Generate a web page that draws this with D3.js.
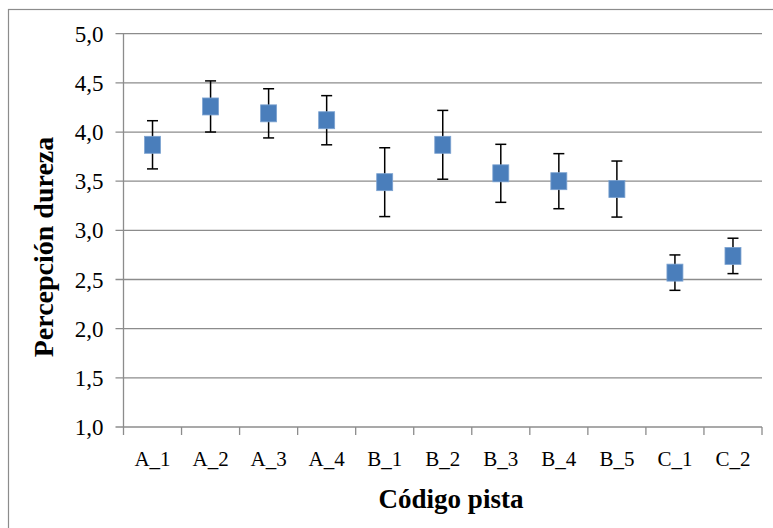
<!DOCTYPE html>
<html>
<head>
<meta charset="utf-8">
<script src="https://cdn.jsdelivr.net/npm/d3@7"></script>
<style>
  body { margin: 0; background: #fff; }
  text { font-family: "Liberation Serif", serif; fill: #000; }
</style>
</head>
<body>
<div id="chart"></div>
<script>
// data
var categories = ["A_1", "A_2", "A_3", "A_4", "B_1", "B_2", "B_3", "B_4", "B_5", "C_1", "C_2"];
var means  = [3.87, 4.26, 4.19, 4.12, 3.49, 3.87, 3.58, 3.50, 3.42, 2.57, 2.74];
var errors = [0.245, 0.26, 0.25, 0.25, 0.35, 0.35, 0.295, 0.28, 0.285, 0.18, 0.18];
var yTicks = [1.0, 1.5, 2.0, 2.5, 3.0, 3.5, 4.0, 4.5, 5.0];

const width = 773, height = 528;
const plotLeft = 123.5, plotRight = 762, plotTop = 33.7, plotBottom = 427;

const svg = d3.select("#chart")
  .append("svg")
  .attr("width", width)
  .attr("height", height);

// outer chart border (only left and top visible in the picture)
svg.append("rect")
  .attr("x", 8.5).attr("y", 9.5)
  .attr("width", 800).attr("height", 600)
  .attr("fill", "none")
  .attr("stroke", "#8c8c8c")
  .attr("stroke-width", 1.2);

var x = d3.scaleBand()
  .domain(categories)
  .range([plotLeft, plotRight]);

var y = d3.scaleLinear()
  .domain([1, 5])
  .range([plotBottom, plotTop]);

var fmt = function(d) { return d3.format(".1f")(d).replace(".", ","); };

// gridlines + y ticks
svg.selectAll(".grid")
  .data(yTicks)
  .enter()
  .append("line")
  .attr("x1", plotLeft - 8).attr("x2", plotRight)
  .attr("y1", function(d) { return y(d); })
  .attr("y2", function(d) { return y(d); })
  .attr("stroke", "#8c8c8c")
  .attr("stroke-width", 1.3);

svg.selectAll(".ylab")
  .data(yTicks)
  .enter()
  .append("text")
  .attr("x", plotLeft - 20)
  .attr("y", function(d) { return y(d); })
  .attr("dy", "0.35em")
  .attr("text-anchor", "end")
  .style("font-size", "23px")
  .text(fmt);

// y axis line
svg.append("line")
  .attr("x1", plotLeft).attr("x2", plotLeft)
  .attr("y1", plotTop).attr("y2", plotBottom)
  .attr("stroke", "#8c8c8c")
  .attr("stroke-width", 1.3);

// x axis ticks at band edges
var edges = categories.map(function(c) { return x(c); }).concat([x(categories[categories.length - 1]) + x.bandwidth()]);
svg.selectAll(".xtick")
  .data(edges)
  .enter()
  .append("line")
  .attr("x1", function(d) { return d; })
  .attr("x2", function(d) { return d; })
  .attr("y1", plotBottom).attr("y2", plotBottom + 8)
  .attr("stroke", "#8c8c8c")
  .attr("stroke-width", 1.3);

svg.selectAll(".xlab")
  .data(categories)
  .enter()
  .append("text")
  .attr("x", function(d) { return x(d) + x.bandwidth() / 2; })
  .attr("y", 466)
  .attr("text-anchor", "middle")
  .style("font-size", "21px")
  .text(function(d) { return d; });

// error bars
var cap = 5.5;
var bars = svg.selectAll(".err")
  .data(categories)
  .enter()
  .append("g");

bars.append("line")
  .attr("x1", function(d) { return x(d) + x.bandwidth() / 2; })
  .attr("x2", function(d) { return x(d) + x.bandwidth() / 2; })
  .attr("y1", function(d, i) { return y(means[i] + errors[i]); })
  .attr("y2", function(d, i) { return y(means[i] - errors[i]); })
  .attr("stroke", "#000").attr("stroke-width", 1.5);

bars.append("line")
  .attr("x1", function(d) { return x(d) + x.bandwidth() / 2 - cap; })
  .attr("x2", function(d) { return x(d) + x.bandwidth() / 2 + cap; })
  .attr("y1", function(d, i) { return y(means[i] + errors[i]); })
  .attr("y2", function(d, i) { return y(means[i] + errors[i]); })
  .attr("stroke", "#000").attr("stroke-width", 1.5);

bars.append("line")
  .attr("x1", function(d) { return x(d) + x.bandwidth() / 2 - cap; })
  .attr("x2", function(d) { return x(d) + x.bandwidth() / 2 + cap; })
  .attr("y1", function(d, i) { return y(means[i] - errors[i]); })
  .attr("y2", function(d, i) { return y(means[i] - errors[i]); })
  .attr("stroke", "#000").attr("stroke-width", 1.5);

// square markers
svg.selectAll(".pt")
  .data(categories)
  .enter()
  .append("rect")
  .attr("x", function(d) { return x(d) + x.bandwidth() / 2 - 8; })
  .attr("y", function(d, i) { return y(means[i]) - 8.5; })
  .attr("width", 16)
  .attr("height", 17)
  .attr("fill", "#4a7ebb")
  .attr("stroke", "#7da3d1")
  .attr("stroke-width", 0.8);

// axis titles
svg.append("text")
  .attr("x", 451)
  .attr("y", 508)
  .attr("text-anchor", "middle")
  .style("font-size", "27px")
  .style("font-weight", "bold")
  .text("Código pista");

svg.append("text")
  .attr("transform", "translate(53,247) rotate(-90)")
  .attr("text-anchor", "middle")
  .style("font-size", "28px")
  .style("font-weight", "bold")
  .text("Percepción  dureza");
</script>
</body>
</html>
